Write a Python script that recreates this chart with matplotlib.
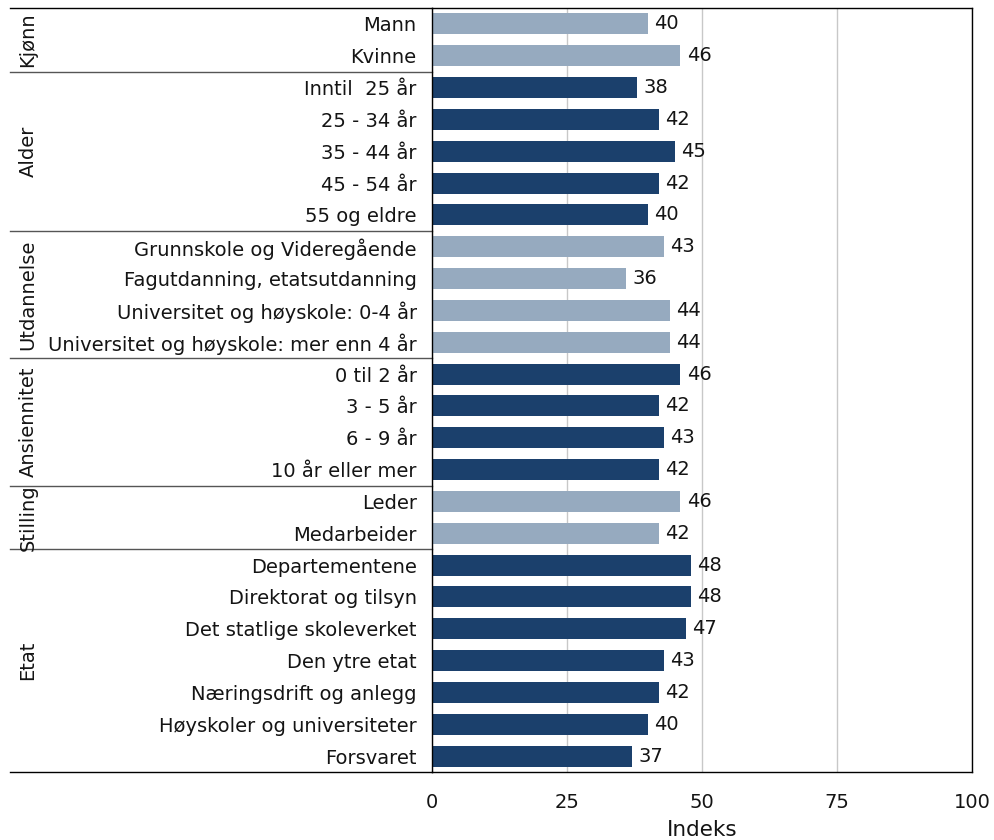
import matplotlib
matplotlib.use("Agg")
import matplotlib.pyplot as plt
import matplotlib.transforms as mtransforms

plt.rcParams['font.family'] = ['DejaVu Sans']

categories = [
    "Mann", "Kvinne",
    "Inntil  25 år", "25 - 34 år", "35 - 44 år", "45 - 54 år", "55 og eldre",
    "Grunnskole og Videregående", "Fagutdanning, etatsutdanning",
    "Universitet og høyskole: 0-4 år", "Universitet og høyskole: mer enn 4 år",
    "0 til 2 år", "3 - 5 år", "6 - 9 år", "10 år eller mer",
    "Leder", "Medarbeider",
    "Departementene", "Direktorat og tilsyn", "Det statlige skoleverket",
    "Den ytre etat", "Næringsdrift og anlegg", "Høyskoler og universiteter",
    "Forsvaret",
]
values = [40, 46, 38, 42, 45, 42, 40, 43, 36, 44, 44, 46, 42, 43, 42,
          46, 42, 48, 48, 47, 43, 42, 40, 37]
groups = ["Kjønn", "Alder", "Utdannelse", "Ansiennitet", "Stilling", "Etat"]
group_sizes = [2, 5, 4, 4, 2, 7]
x_ticks = [0, 25, 50, 75, 100]

light = "#96AABF"
dark = "#1B406C"
group_colors = [light, dark, light, dark, light, dark]

bar_colors = []
for c, n in zip(group_colors, group_sizes):
    bar_colors += [c] * n

FS = 14
TXT = "#141414"

fig = plt.figure(figsize=(9.94, 8.4), dpi=100)
ax = fig.add_axes([432 / 994, 1 - 772 / 840, 540 / 994, 764 / 840])

y = list(range(len(categories)))
ax.barh(y, values, height=0.66, color=bar_colors, zorder=2)
for yi, v in zip(y, values):
    ax.annotate(f"{v}", (v, yi), xytext=(4.5, 0), textcoords="offset points",
                va="center", ha="left", fontsize=FS, color=TXT)

ax.set_xlim(0, 100)
ax.set_ylim(len(categories) - 0.5, -0.5)
ax.set_xticks(x_ticks)
ax.set_yticks(y)
ax.set_yticklabels(categories, fontsize=FS, color=TXT)
ax.tick_params(axis="y", length=0, pad=11)
ax.tick_params(axis="x", length=0, pad=15, labelsize=FS, labelcolor=TXT)
ax.xaxis.grid(True, color="#c8c8c8", linewidth=1, zorder=0)
ax.set_axisbelow(True)
for s in ax.spines.values():
    s.set_color("black")
    s.set_linewidth(1)
ax.set_xlabel("Indeks", fontsize=15.5, labelpad=6, color=TXT)

# group separators and labels on the left
trans = mtransforms.blended_transform_factory(ax.transAxes, ax.transData)
x_left = (10 - 432) / 540
start = 0
ax.plot([x_left, 0], [-0.5, -0.5], transform=trans, color="black",
        linewidth=1, clip_on=False)
for i, (g, n) in enumerate(zip(groups, group_sizes)):
    end = start + n
    boundary = end - 0.5
    is_last = i == len(groups) - 1
    ax.plot([x_left, 0], [boundary, boundary], transform=trans,
            color="black" if is_last else "#555555",
            linewidth=1, clip_on=False)
    mid = (start + end - 1) / 2
    ax.text((28 - 432) / 540, mid, g, transform=trans, rotation=90,
            ha="center", va="center", fontsize=FS, color=TXT)
    start = end

fig.savefig("out.png", dpi=100)
